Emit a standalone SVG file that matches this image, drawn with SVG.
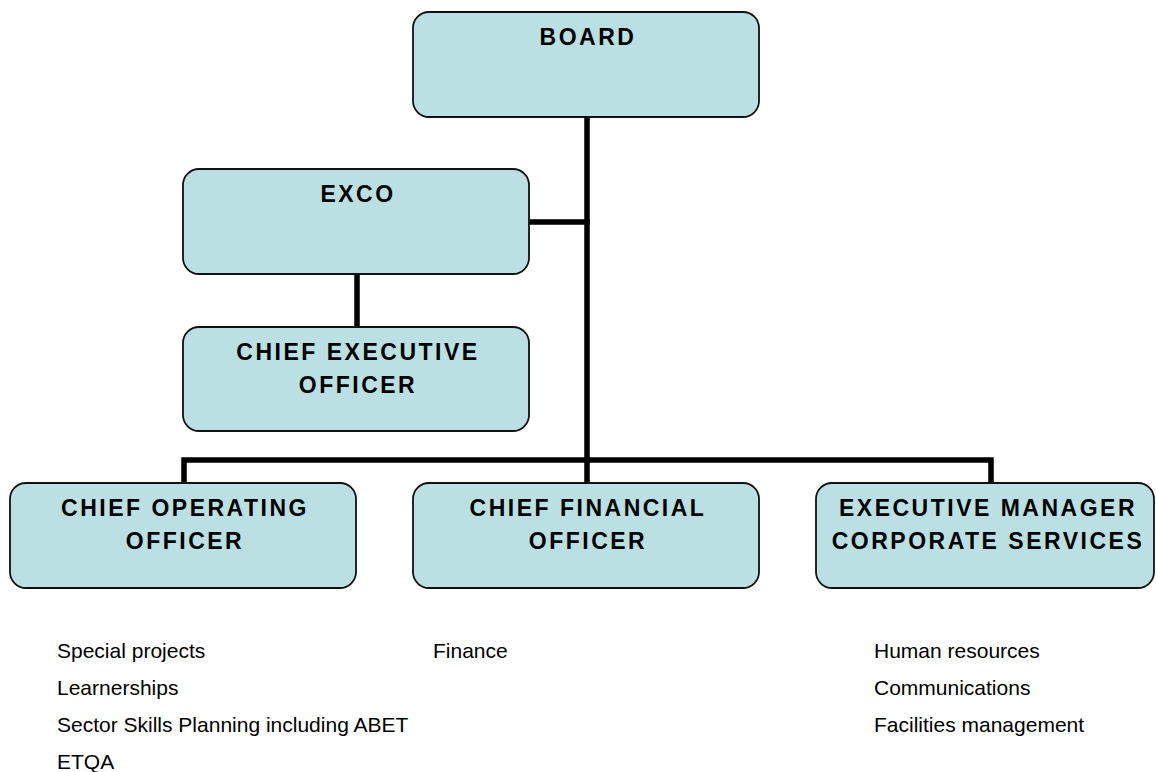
<svg xmlns="http://www.w3.org/2000/svg" width="1156" height="772" viewBox="0 0 1156 772">
<style>
.box{fill:#BAE0E3;stroke:#111;stroke-width:1.8}
.t{font-family:"Liberation Sans",Arial,sans-serif;font-weight:bold;font-size:23px;letter-spacing:2.5px;text-anchor:middle;fill:#000}
.l{font-family:"Liberation Sans",Arial,sans-serif;font-size:21px;fill:#000}
.c{stroke:#000;stroke-width:5.5;fill:none;stroke-linecap:square}
</style>
<rect width="1156" height="772" fill="#fff"/>
<g id="connectors">
<line class="c" x1="587" y1="118" x2="587" y2="482"/>
<line class="c" x1="530" y1="222" x2="587" y2="222"/>
<line class="c" x1="357" y1="275" x2="357" y2="326"/>
<polyline class="c" points="184,482 184,460 991,460 991,482"/>
</g>
<g id="board">
<rect class="box" x="413" y="12" width="346" height="105" rx="16"/>
<text class="t" x="588" y="45">BOARD</text>
</g>
<g id="exco">
<rect class="box" x="183" y="169" width="346" height="105" rx="16"/>
<text class="t" x="358" y="202">EXCO</text>
</g>
<g id="ceo">
<rect class="box" x="183" y="327" width="346" height="104" rx="16"/>
<text class="t" x="358" y="360">CHIEF EXECUTIVE</text>
<text class="t" x="358" y="393">OFFICER</text>
</g>
<g id="coo">
<rect class="box" x="10" y="483" width="346" height="105" rx="16"/>
<text class="t" x="185" y="516">CHIEF OPERATING</text>
<text class="t" x="185" y="549">OFFICER</text>
</g>
<g id="cfo">
<rect class="box" x="413" y="483" width="346" height="105" rx="16"/>
<text class="t" x="588" y="516">CHIEF FINANCIAL</text>
<text class="t" x="588" y="549">OFFICER</text>
</g>
<g id="emcs">
<rect class="box" x="816" y="483" width="338" height="105" rx="16"/>
<text class="t" x="988" y="516">EXECUTIVE MANAGER</text>
<text class="t" x="988" y="549">CORPORATE SERVICES</text>
</g>
<g id="coo-list">
<text class="l" x="57" y="658">Special projects</text>
<text class="l" x="57" y="695">Learnerships</text>
<text class="l" x="57" y="732">Sector Skills Planning including ABET</text>
<text class="l" x="57" y="769">ETQA</text>
</g>
<g id="cfo-list">
<text class="l" x="433" y="658">Finance</text>
</g>
<g id="emcs-list">
<text class="l" x="874" y="658">Human resources</text>
<text class="l" x="874" y="695">Communications</text>
<text class="l" x="874" y="732">Facilities management</text>
</g>
</svg>
